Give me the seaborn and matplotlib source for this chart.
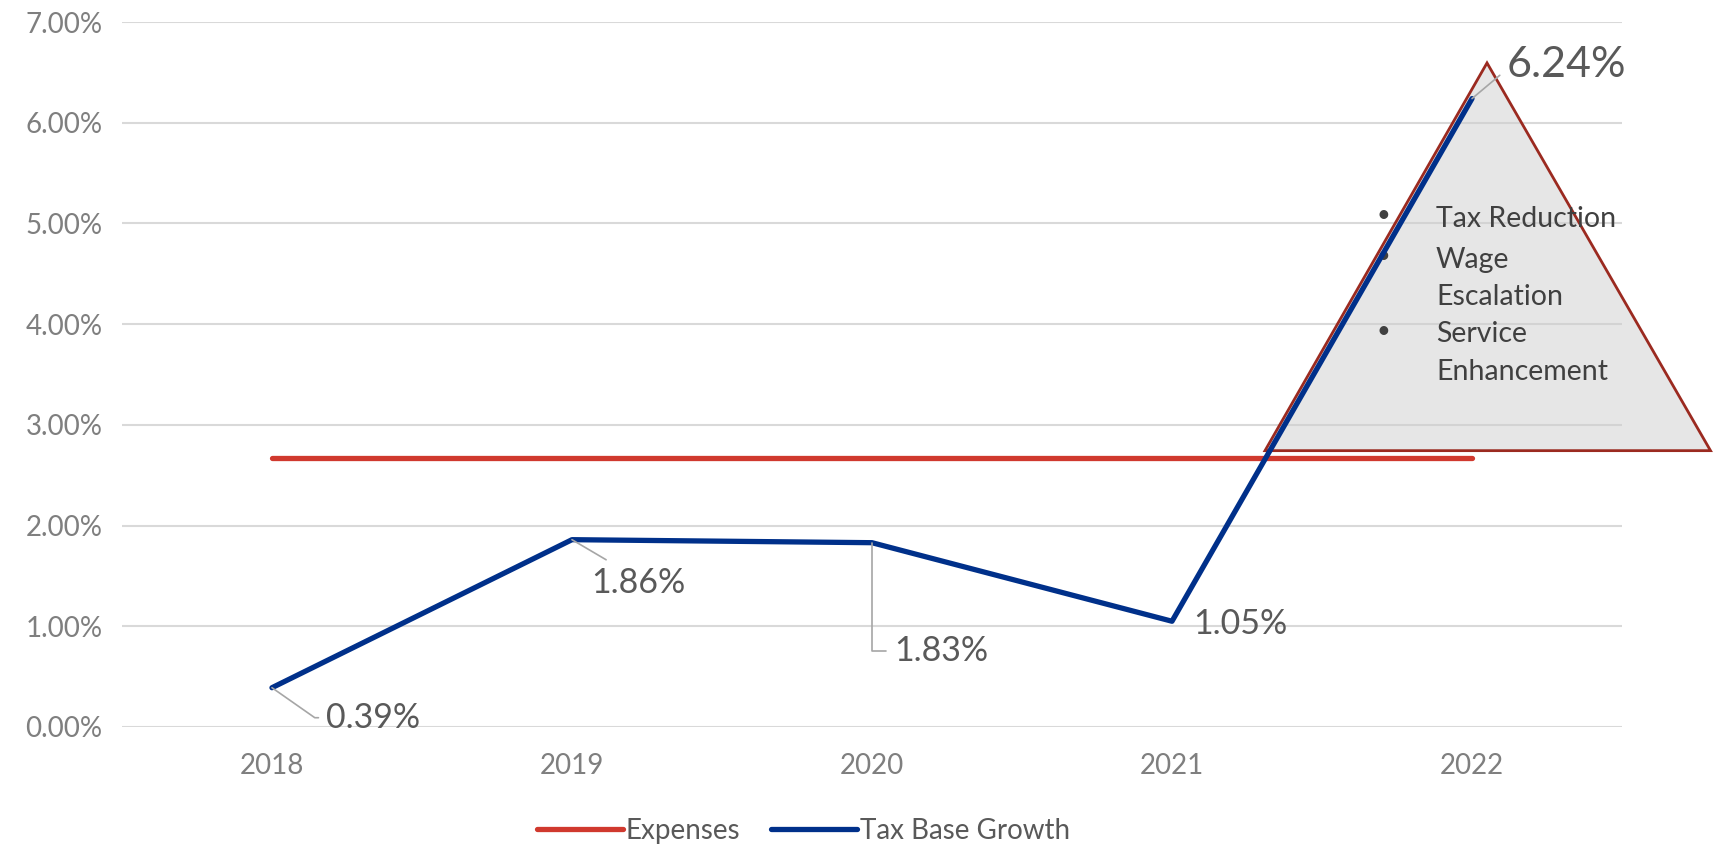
import matplotlib
matplotlib.use("Agg")
import matplotlib.pyplot as plt
from matplotlib.patches import Polygon
import seaborn as sns
import pandas as pd

# Annual growth rates (percent)
years = ["2018", "2019", "2020", "2021", "2022"]
expenses = [2.67, 2.67, 2.67, 2.67, 2.67]
tax_base_growth = [0.39, 1.86, 1.83, 1.05, 6.24]
series_names = ["Expenses", "Tax Base Growth"]
series_colors = ["#D0392E", "#00308A"]
y_ticks = [0, 1, 2, 3, 4, 5, 6, 7]
pressures = ["Tax Reduction", "Wage", "Escalation", "Service", "Enhancement"]
pressure_bullets = [True, True, False, True, False]

df = pd.DataFrame({
    "Year": years * 2,
    "Rate": expenses + tax_base_growth,
    "Series": [series_names[0]] * len(years) + [series_names[1]] * len(years),
})

sns.set_theme(style="white")
plt.rcParams["font.family"] = ["Lato", "DejaVu Sans"]

fig = plt.figure(figsize=(17.25, 8.48), dpi=100)
ax = fig.add_axes([0.0707, 0.1427, 0.8696, 0.8313])

sns.lineplot(data=df, x="Year", y="Rate", hue="Series", hue_order=series_names,
             palette=series_colors, linewidth=3.8, sort=False, ax=ax,
             legend=False, zorder=3, solid_capstyle="round")

ax.set_xlim(-0.5, len(years) - 0.5)
ax.set_ylim(y_ticks[0], y_ticks[-1])
ax.set_yticks(y_ticks)
ax.set_yticklabels([f"{v:.2f}%" for v in y_ticks])
ax.set_xlabel("")
ax.set_ylabel("")
ax.grid(axis="y", color="#D9D9D9", linewidth=1.5)
ax.grid(axis="x", visible=False)
for s in ax.spines.values():
    s.set_visible(False)
ax.tick_params(axis="y", labelsize=20, labelcolor="#7F7F7F", pad=14, length=0)
ax.tick_params(axis="x", labelsize=20, labelcolor="#7F7F7F", pad=19, length=0)

# Callout triangle listing cost pressures
tri_pts = [[0.910, 0.942], [0.762, 0.392], [1.059, 0.392]]
tri = Polygon(tri_pts, closed=True, transform=ax.transAxes, facecolor="#CFCFCF",
              alpha=0.5, edgecolor="none", zorder=1.5, clip_on=False)
ax.add_patch(tri)
tri_edge = Polygon(tri_pts, closed=True, transform=ax.transAxes, facecolor="none",
                   edgecolor="#9B2A20", linewidth=2, zorder=2.5, clip_on=False)
ax.add_patch(tri_edge)
line_y = [0.721, 0.663, 0.610, 0.557, 0.504]
for txt, bullet, yy in zip(pressures, pressure_bullets, line_y):
    ax.text(0.876, yy, txt, transform=ax.transAxes, fontsize=20.5,
            color="#404040", va="center", ha="left", zorder=4)
    if bullet:
        ax.text(0.841, yy + 0.004, "•", transform=ax.transAxes, fontsize=17,
                color="#404040", va="center", ha="center", zorder=2.6)

# Data labels with leader lines
label_offsets = [(101, -30), (66, -43), (69, -108), (68, -3), (94, 34)]
label_sizes = [24.5, 24.5, 24.5, 24.5, 31]
leaders = [
    dict(connectionstyle="angle,angleA=0,angleB=-35,rad=0", relpos=(0, 0.5)),
    dict(connectionstyle="arc3", relpos=(0.2, 1.15)),
    dict(connectionstyle="angle,angleA=0,angleB=90,rad=0", relpos=(0, 0.5)),
    None,
    dict(connectionstyle="angle,angleA=0,angleB=40,rad=0", relpos=(0, 0.5)),
]
for i, (val, off, fs, lead) in enumerate(zip(tax_base_growth, label_offsets,
                                             label_sizes, leaders)):
    arrow = None
    if lead is not None:
        arrow = dict(arrowstyle="-", color="#A6A6A6", lw=1.2, shrinkA=3, shrinkB=0,
                     **lead)
    ax.annotate(f"{val:.2f}%", xy=(i, val), xytext=off, textcoords="offset pixels",
                fontsize=fs, color="#595959", ha="center", va="center",
                arrowprops=arrow, zorder=5)

# Legend
handles = [plt.Line2D([], [], color=c, linewidth=3.8, solid_capstyle="round")
           for c in series_colors]
leg = fig.legend(handles, series_names, loc="center", bbox_to_anchor=(0.4656, 0.02),
                 ncol=2, frameon=False, fontsize=20, handlelength=3.1,
                 handletextpad=0.1, columnspacing=1.1)
for t in leg.get_texts():
    t.set_color("#595959")

fig.savefig("out.png", dpi=100)
